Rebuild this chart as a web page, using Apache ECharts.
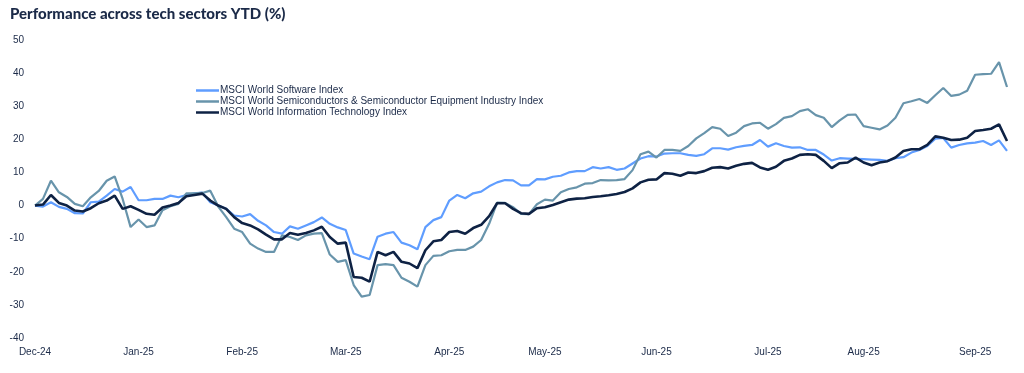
<!DOCTYPE html>
<html>
<head>
<meta charset="utf-8">
<script src="https://cdn.jsdelivr.net/npm/echarts@6/dist/echarts.min.js"></script>
<style>
html,body{margin:0;padding:0;background:#fff;}
#c{width:1024px;height:373px;}
</style>
</head>
<body>
<div id="c"></div>
<script>
const title = 'Performance across tech sectors YTD (%)';
const seriesNames = [
  'MSCI World Software Index',
  'MSCI World Semiconductors & Semiconductor Equipment Industry Index',
  'MSCI World Information Technology Index'
];
const monthLabels = ['Dec-24','Jan-25','Feb-25','Mar-25','Apr-25','May-25','Jun-25','Jul-25','Aug-25','Sep-25'];
const monthLabelIdx = [0,13,26,39,52,64,78,92,104,118];
const yTicks = {min:-40, max:50, interval:10};

const software = [
  0,-0.3,1,-0.4,-1,-2.3,-2.4,1,1.2,3,
  5,4.2,5.6,1.6,1.6,2,2,3,2.5,3.2,
  3.7,3.9,1,0,-1,-3,-3.3,-2.6,-4.6,-6,
  -8,-8.5,-6.3,-7,-6,-5,-3.6,-5.5,-6.6,-7.4,
  -14.5,-15.4,-16.2,-9.4,-8.5,-8,-11.2,-12,-13.2,-6.5,
  -4.4,-3.5,1.5,3.2,2.2,3.7,4.2,5.8,7,7.7,
  7.6,6.1,6.1,8,7.9,8.7,9,10,10.4,10.4,
  11.6,11.2,11.6,10.8,11.2,12.7,14.2,14.9,14.8,15.7,
  15.8,15.8,15.3,15,15.5,17.3,17.3,16.9,17.6,18,
  18.3,19.8,17.8,18.8,18,17.5,17.6,16.8,16.8,15.4,
  13.6,14.3,14.2,14.1,14,13.9,13.8,13.5,14.3,14.6,
  16,16.8,18,20.2,20.4,17.5,18.3,18.8,19,19.5,
  18.3,19.7,16.5
];
const semis = [
  0,2,7.5,4,2.6,0.5,-0.2,2.5,4.4,7.5,
  8.8,2,-6.5,-4.2,-6.5,-6,-1.4,-0.2,0.5,3.7,
  3.7,3.8,4.5,-0.3,-3.5,-7,-8,-11.5,-13,-14,
  -14,-9,-9.5,-10.4,-9,-8.5,-8.3,-14.8,-17,-16.5,
  -24,-27.5,-27,-18,-17.7,-18,-21.8,-23,-24.5,-18,
  -15.2,-15,-13.8,-13.4,-13.4,-12.4,-10.4,-5.5,0.9,0.8,
  -0.5,-2.5,-2.6,0.4,1.8,1.5,4,5,5.5,6.6,
  6.8,7.7,7.6,7.7,8,10.7,15.5,16.3,14.5,16.8,
  16.8,16.5,18,20.3,21.9,23.7,23.2,21,22,24,
  24.8,25,23.2,24.6,26.5,27,28.5,29.1,27.3,26.5,
  23.7,25.7,27.4,27.5,24,23.5,23,24.2,26.5,30.9,
  31.5,32.2,31,33.3,35.5,33.1,33.5,34.7,39.5,39.7,
  39.8,43.3,35.8
];
const infoTech = [
  0,0.3,3.2,0.8,0,-1.5,-1.8,-0.8,0.7,1.5,
  3,-1,-0.2,-1.3,-2.5,-2.8,-0.6,0,0.8,2.8,
  3.2,3.6,1.5,0,-1,-3.5,-5.3,-6,-7.2,-8.8,
  -10.2,-10.2,-8.3,-8.8,-8.3,-7.5,-6.4,-9.5,-11.5,-11.2,
  -21.6,-21.8,-23,-14,-15,-14,-17,-17.5,-18.9,-13.5,
  -10.8,-10.4,-8,-7.7,-8.5,-6.8,-5.8,-3.2,0.7,0.7,
  -1,-2.3,-2.5,-0.8,-0.5,0.2,1,1.8,2.1,2.2,
  2.6,2.8,3.1,3.5,4.1,5.2,7,7.8,7.9,9.8,
  9.6,9,10,9.8,10.4,11.4,11.6,11.2,12,12.6,
  12.9,11.5,10.8,11.7,13.5,14.2,15.3,15.5,15.3,13.5,
  11.3,12.8,13,14.5,13,12.2,13,13.4,14.5,16.5,
  17,17,18.3,20.9,20.5,19.8,19.9,20.5,22.5,22.8,
  23.2,24.5,19.5
];
const colors = ['#5f9dff', '#6894ab', '#0e2244'];
const textColor = '#1b2a48';

const categories = software.map((_, i) => String(i));
const labelMap = {};
monthLabelIdx.forEach((idx, k) => { labelMap[idx] = monthLabels[k]; });

const chart = echarts.init(document.getElementById('c'), null, {renderer: 'canvas'});
const values = [software, semis, infoTech];
chart.setOption({
  animation: false,
  backgroundColor: '#fff',
  title: {
    text: title,
    left: 10, top: 7, padding: 0,
    textStyle: {fontFamily: 'Lato', fontWeight: 900, fontSize: 15, color: textColor}
  },
  legend: {
    orient: 'vertical',
    left: 196, top: 85, padding: 0,
    itemWidth: 23, itemHeight: 2.5, itemGap: 0,
    icon: 'rect',
    textStyle: {fontFamily: 'Liberation Sans', fontSize: 10, color: textColor, lineHeight: 11, padding: [0,0,0,-4]},
    data: seriesNames
  },
  grid: {left: 35, right: 17, top: 40, bottom: 35, containLabel: false},
  xAxis: {
    type: 'category',
    data: categories,
    boundaryGap: false,
    axisLine: {show: false},
    axisTick: {show: false},
    splitLine: {show: false},
    axisLabel: {
      interval: (i) => labelMap[i] !== undefined,
      formatter: (v, i) => labelMap[i] || '',
      margin: 9,
      fontFamily: 'Liberation Sans', fontSize: 10, color: textColor
    }
  },
  yAxis: {
    type: 'value',
    min: yTicks.min, max: yTicks.max, interval: yTicks.interval,
    axisLine: {show: false},
    axisTick: {show: false},
    splitLine: {show: false},
    axisLabel: {margin: 11, fontFamily: 'Liberation Sans', fontSize: 10, color: textColor}
  },
  series: seriesNames.map((name, k) => ({
    name: name,
    type: 'line',
    data: values[k],
    showSymbol: false,
    symbol: 'none',
    color: colors[k],
    lineStyle: {color: colors[k], width: k === 2 ? 2.6 : 2.2},
    z: 2 + k
  }))
});
</script>
</body>
</html>
